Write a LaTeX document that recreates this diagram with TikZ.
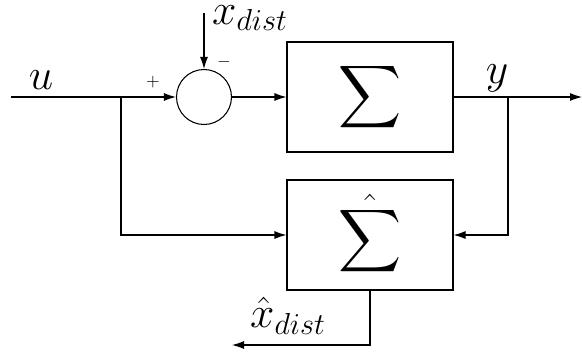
\documentclass[tikz,border=0pt]{standalone}
\usepackage{amsmath}
\usepackage{tikz}
\usetikzlibrary{arrows.meta, positioning, calc}
\tikzset{
  block/.style={rectangle, draw, minimum width=3.32cm, minimum height=2.2cm,
    inner sep=0pt, line width=0.6pt, font=\fontsize{23.5}{28}\selectfont},
  sumjunc/.style={circle, draw, minimum size=1.1cm, inner sep=0pt, line width=0.6pt},
  arrow/.style={-{Latex[length=2.4mm, width=1.6mm]}, line width=0.6pt},
  lbl/.style={font=\fontsize{23.5}{28}\selectfont, inner sep=0pt},
  sgn/.style={font=\normalsize, inner sep=0pt}
}

\begin{document}
\begin{tikzpicture}
  \useasboundingbox (0,0) rectangle (11.64,7.12);

  % Input
  \coordinate (in) at (0.22,5.18);
  \coordinate (ubranch) at (2.42,5.18);
  \node[lbl] (ulabel) at (0.82,5.52) {$u$};

  % Summation with disturbance
  \node[sumjunc] (sum) at (4.08,5.18) {};
  \coordinate (dist) at (4.08,6.86);
  \node[lbl] (distlabel) at (5.0,6.76) {$x_{dist}$};
  \node[sgn] (plus) at (3.06,5.48) {$+$};
  \node[sgn] (minus) at (4.48,5.88) {$-$};

  % Plant and observer
  \node[block] (plant) at (7.4,5.18) {$\displaystyle\sum$};
  \node[block] (obs) at (7.4,2.42) {$\displaystyle\hat{\sum}$};

  % Output and estimate
  \coordinate (ybranch) at (10.16,5.18);
  \coordinate (out) at (11.64,5.18);
  \node[lbl] (ylabel) at (9.94,5.55) {$y$};
  \coordinate (est) at (4.64,0.22);
  \node[lbl] (estlabel) at (5.76,0.8) {$\hat{x}_{dist}$};

  % Connections
  \draw[arrow] (in) -- (sum);
  \draw[arrow] (dist) -- (sum);
  \draw[arrow] (sum) -- (plant);
  \draw[arrow] (plant) -- (out);
  \draw[arrow] (ubranch) |- (obs);
  \draw[arrow] (ybranch) |- (obs);
  \draw[arrow] (obs.south) |- (est);
\end{tikzpicture}
\end{document}
